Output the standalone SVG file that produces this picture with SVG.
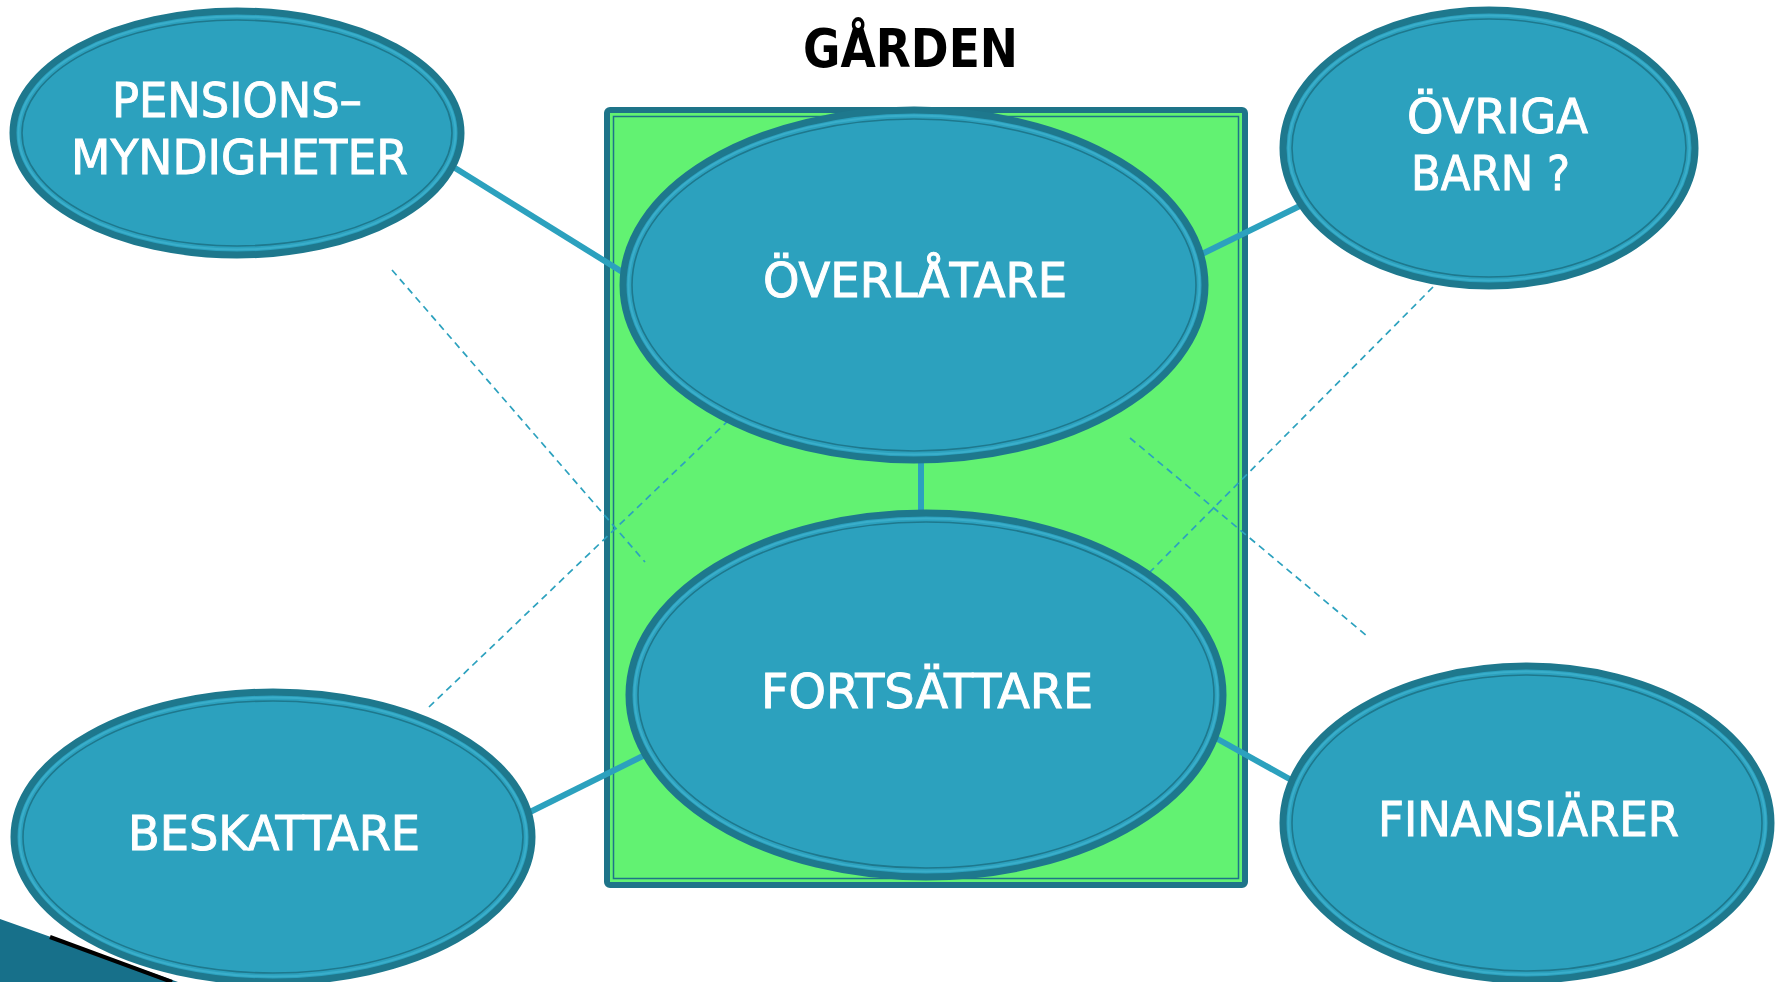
<svg xmlns="http://www.w3.org/2000/svg" width="1782" height="982" viewBox="0 0 1782 982">
<style>
.ell{fill:#2CA1BE;stroke:#1E788D;stroke-width:7}
.inner{fill:none;stroke:#1E788D;stroke-width:1.6}
.band{fill:none;stroke:#3AAECA;stroke-width:2}
.lbl{font-family:"DejaVu Sans Condensed","DejaVu Sans",sans-serif;font-size:48px;fill:#FFFFFF;stroke:#FFFFFF;stroke-width:0.9}
.title{font-family:"DejaVu Sans Condensed","DejaVu Sans",sans-serif;font-size:53px;font-weight:bold;fill:#000000}
.solid{stroke:#2CA1BE;stroke-width:6;fill:none}
.dash{stroke:#2CA1BE;stroke-width:1.7;fill:none;stroke-dasharray:7 5}
</style>
<rect width="1782" height="982" fill="#FFFFFF"/>
<g id="decoration">
<polygon points="0,919 178,982 0,982" fill="#17708A"/>
<line x1="50" y1="937" x2="172" y2="982" stroke="#000000" stroke-width="4"/>
</g>
<g id="garden">
<rect x="607" y="110" width="638" height="775" rx="3" fill="#62F272" stroke="#1E7489" stroke-width="6"/>
<rect x="613.5" y="116.5" width="625" height="762" fill="none" stroke="#1E7489" stroke-width="1.5"/>
<text class="title" x="803" y="67" textLength="215" lengthAdjust="spacingAndGlyphs">GÅRDEN</text>
</g>
<g id="connectors">
<line class="dash" x1="392" y1="270" x2="645" y2="562"/>
<line class="dash" x1="429" y1="707" x2="733" y2="416"/>
<line class="dash" x1="1433" y1="287" x2="1148" y2="574"/>
<line class="dash" x1="1130" y1="438" x2="1367" y2="636"/>
<line class="solid" x1="455" y1="168" x2="632" y2="278"/>
<line class="solid" x1="1202" y1="254" x2="1310" y2="201"/>
<line class="solid" x1="921" y1="455" x2="921" y2="516" stroke-width="9"/>
<line class="solid" x1="653" y1="751" x2="528" y2="813"/>
<line class="solid" x1="1214" y1="737" x2="1302" y2="786"/>
</g>
<g id="overlatare">
<ellipse class="ell" cx="914" cy="285" rx="291" ry="175"/>
<ellipse class="band" cx="914" cy="285" rx="285.5" ry="169.5"/>
<ellipse class="inner" cx="914" cy="285" rx="282" ry="166"/>
<text class="lbl" x="763" y="297" textLength="304" lengthAdjust="spacingAndGlyphs">ÖVERLÅTARE</text>
</g>
<g id="fortsattare">
<ellipse class="ell" cx="926" cy="695" rx="297" ry="182"/>
<ellipse class="band" cx="926" cy="695" rx="291.5" ry="176.5"/>
<ellipse class="inner" cx="926" cy="695" rx="288" ry="173"/>
<text class="lbl" x="761" y="708" textLength="332" lengthAdjust="spacingAndGlyphs">FORTSÄTTARE</text>
</g>
<g id="pensionsmyndigheter">
<ellipse class="ell" cx="237" cy="133" rx="224" ry="122"/>
<ellipse class="band" cx="237" cy="133" rx="218.5" ry="116.5"/>
<ellipse class="inner" cx="237" cy="133" rx="215" ry="113"/>
<text class="lbl" x="112" y="117" textLength="250" lengthAdjust="spacingAndGlyphs">PENSIONS–</text>
<text class="lbl" x="71" y="174" textLength="337" lengthAdjust="spacingAndGlyphs">MYNDIGHETER</text>
</g>
<g id="ovriga-barn">
<ellipse class="ell" cx="1489" cy="148" rx="206" ry="138"/>
<ellipse class="band" cx="1489" cy="148" rx="200.5" ry="132.5"/>
<ellipse class="inner" cx="1489" cy="148" rx="197" ry="129"/>
<text class="lbl" x="1407" y="133" textLength="181" lengthAdjust="spacingAndGlyphs">ÖVRIGA</text>
<text class="lbl" x="1411" y="190" textLength="159" lengthAdjust="spacingAndGlyphs">BARN ?</text>
</g>
<g id="beskattare">
<ellipse class="ell" cx="273" cy="837" rx="259" ry="145"/>
<ellipse class="band" cx="273" cy="837" rx="253.5" ry="139.5"/>
<ellipse class="inner" cx="273" cy="837" rx="250" ry="136"/>
<text class="lbl" x="128" y="850" textLength="292" lengthAdjust="spacingAndGlyphs">BESKATTARE</text>
</g>
<g id="finansiarer">
<ellipse class="ell" cx="1527" cy="823" rx="244" ry="157"/>
<ellipse class="band" cx="1527" cy="823" rx="238.5" ry="151.5"/>
<ellipse class="inner" cx="1527" cy="823" rx="235" ry="148"/>
<text class="lbl" x="1378" y="836" textLength="301" lengthAdjust="spacingAndGlyphs">FINANSIÄRER</text>
</g>
</svg>
